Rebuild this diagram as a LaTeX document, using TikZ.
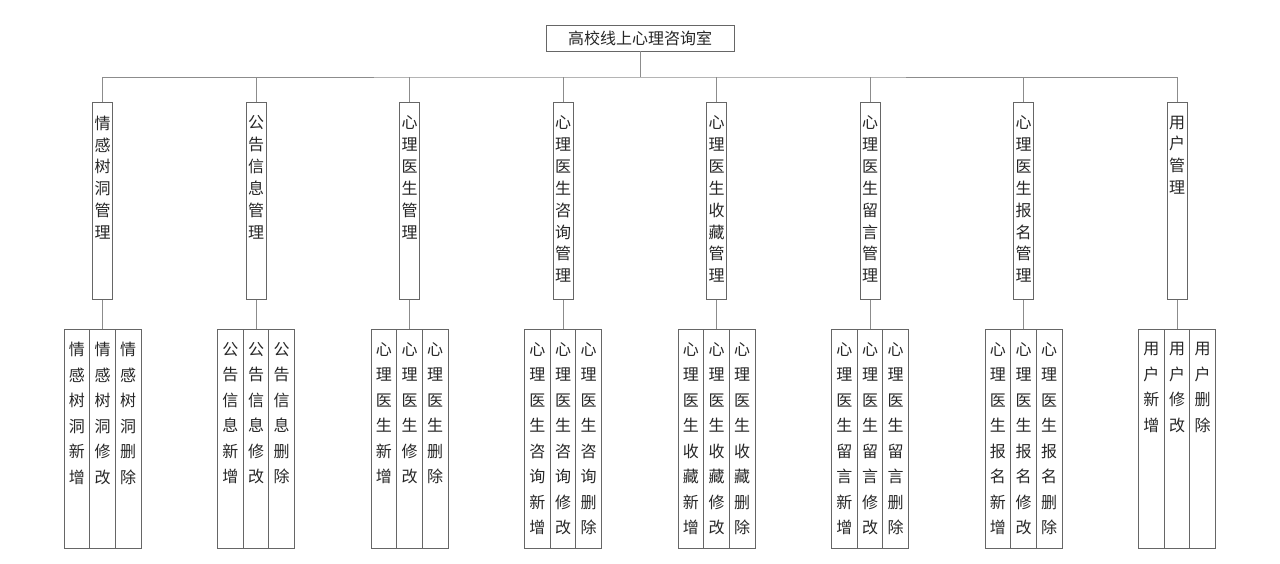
\documentclass[tikz,border=0pt]{standalone}
\usepackage{fontspec}
\newfontfamily\cjk{Noto Sans CJK SC}
\XeTeXlinebreaklocale "zh"
\XeTeXlinebreakskip=0pt plus 1pt
\tikzstyle{tree}=[-, line width=0.8pt, draw=black!45]
\tikzstyle{root}=[rectangle, draw=black!60, line width=0.8pt, minimum width=188pt, minimum height=26pt, inner sep=0pt, font=\cjk\fontsize{16}{18}\selectfont, text=black!85]
\tikzstyle{mod}=[rectangle, draw=black!60, line width=0.8pt, anchor=north, minimum width=20pt, minimum height=197pt, inner sep=0pt]
\tikzstyle{sub}=[rectangle, draw=black!60, line width=0.8pt, anchor=north, minimum width=25.6pt, minimum height=219pt, inner sep=0pt]
\tikzstyle{modtxt}=[anchor=north, yshift=-13.5pt, inner sep=0pt, text width=20pt, align=center, font=\cjk\fontsize{16}{21.9}\selectfont, text=black!85]
\tikzstyle{subtxt}=[anchor=north, yshift=-13pt, inner sep=0pt, text width=22pt, align=center, font=\cjk\fontsize{16}{25.5}\selectfont, text=black!85]
\begin{document}
\begin{tikzpicture}[x=1pt, y=-1pt]
	\useasboundingbox (0,0) rectangle (1280,563);

	%The root
	\draw (640,38) node[root] (root) {高校线上心理咨询室};

	%The modules
	\draw (102.5,102) node[mod, label={[modtxt]north:情感树洞管理}] (m1) {};
	\draw (256,102) node[mod, label={[modtxt]north:公告信息管理}] (m2) {};
	\draw (409.5,102) node[mod, label={[modtxt]north:心理医生管理}] (m3) {};
	\draw (563,102) node[mod, label={[modtxt]north:心理医生咨询管理}] (m4) {};
	\draw (716.5,102) node[mod, label={[modtxt]north:心理医生收藏管理}] (m5) {};
	\draw (870,102) node[mod, label={[modtxt]north:心理医生留言管理}] (m6) {};
	\draw (1023.5,102) node[mod, label={[modtxt]north:心理医生报名管理}] (m7) {};
	\draw (1177,102) node[mod, label={[modtxt]north:用户管理}] (m8) {};

	%The bus
	\coordinate (bus) at (640,77);
	\draw[tree] (root) -- (bus);
	\draw[tree] (m1.north) |- (bus) -| (m8.north);
	\draw[tree] (m2.north) -- (m2.north |- bus);
	\draw[tree] (m3.north) -- (m3.north |- bus);
	\draw[tree] (m4.north) -- (m4.north |- bus);
	\draw[tree] (m5.north) -- (m5.north |- bus);
	\draw[tree] (m6.north) -- (m6.north |- bus);
	\draw[tree] (m7.north) -- (m7.north |- bus);

	%The first group
	\draw (76.9,329) node[sub, label={[subtxt]north:情感树洞新增}] (s1-a) {};
	\draw (102.5,329) node[sub, label={[subtxt]north:情感树洞修改}] (s1-b) {};
	\draw (128.1,329) node[sub, label={[subtxt]north:情感树洞删除}] (s1-c) {};
	\draw[tree] (m1) -- (s1-b);

	%The second group
	\draw (230.4,329) node[sub, label={[subtxt]north:公告信息新增}] (s2-a) {};
	\draw (256,329) node[sub, label={[subtxt]north:公告信息修改}] (s2-b) {};
	\draw (281.6,329) node[sub, label={[subtxt]north:公告信息删除}] (s2-c) {};
	\draw[tree] (m2) -- (s2-b);

	%The third group
	\draw (383.9,329) node[sub, label={[subtxt]north:心理医生新增}] (s3-a) {};
	\draw (409.5,329) node[sub, label={[subtxt]north:心理医生修改}] (s3-b) {};
	\draw (435.1,329) node[sub, label={[subtxt]north:心理医生删除}] (s3-c) {};
	\draw[tree] (m3) -- (s3-b);

	%The fourth group
	\draw (537.4,329) node[sub, label={[subtxt]north:心理医生咨询新增}] (s4-a) {};
	\draw (563,329) node[sub, label={[subtxt]north:心理医生咨询修改}] (s4-b) {};
	\draw (588.6,329) node[sub, label={[subtxt]north:心理医生咨询删除}] (s4-c) {};
	\draw[tree] (m4) -- (s4-b);

	%The fifth group
	\draw (690.9,329) node[sub, label={[subtxt]north:心理医生收藏新增}] (s5-a) {};
	\draw (716.5,329) node[sub, label={[subtxt]north:心理医生收藏修改}] (s5-b) {};
	\draw (742.1,329) node[sub, label={[subtxt]north:心理医生收藏删除}] (s5-c) {};
	\draw[tree] (m5) -- (s5-b);

	%The sixth group
	\draw (844.4,329) node[sub, label={[subtxt]north:心理医生留言新增}] (s6-a) {};
	\draw (870,329) node[sub, label={[subtxt]north:心理医生留言修改}] (s6-b) {};
	\draw (895.6,329) node[sub, label={[subtxt]north:心理医生留言删除}] (s6-c) {};
	\draw[tree] (m6) -- (s6-b);

	%The seventh group
	\draw (997.9,329) node[sub, label={[subtxt]north:心理医生报名新增}] (s7-a) {};
	\draw (1023.5,329) node[sub, label={[subtxt]north:心理医生报名修改}] (s7-b) {};
	\draw (1049.1,329) node[sub, label={[subtxt]north:心理医生报名删除}] (s7-c) {};
	\draw[tree] (m7) -- (s7-b);

	%The eighth group
	\draw (1151.4,329) node[sub, label={[subtxt]north:用户新增}] (s8-a) {};
	\draw (1177,329) node[sub, label={[subtxt]north:用户修改}] (s8-b) {};
	\draw (1202.6,329) node[sub, label={[subtxt]north:用户删除}] (s8-c) {};
	\draw[tree] (m8) -- (s8-b);
\end{tikzpicture}
\end{document}
